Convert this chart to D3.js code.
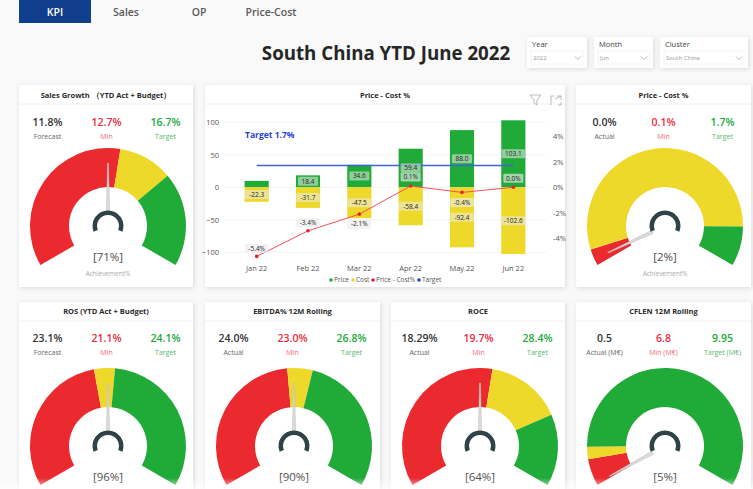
<!DOCTYPE html>
<meta charset="utf-8">
<style>
  html, body { margin: 0; padding: 0; background: #f9f9f9; overflow: hidden; }
  svg { display: block; font-family: "Open Sans", sans-serif; }
  .tick line, .domain { display: none; }
  .tick text { font-family: "Open Sans", sans-serif; font-size: 7.5px; fill: #555; }
</style>

<body>
  <script src="https://d3js.org/d3.v7.min.js"></script>
  <script>
    // tabs and slicers
    var tabs = ["KPI", "Sales", "OP", "Price-Cost"];
    var slicerLabels = ["Year", "Month", "Cluster"];
    var slicerValues = ["2022", "Jun", "South China"];

    // combo chart
    var months = ["Jan 22", "Feb 22", "Mar 22", "Apr 22", "May 22", "Jun 22"];
    var price = [9.9, 18.4, 34.6, 59.4, 88.0, 103.1];
    var cost = [-22.3, -31.7, -47.5, -58.4, -92.4, -102.6];
    var priceCostPct = [-5.4, -3.4, -2.1, 0.1, -0.4, 0.0];
    var targetPct = 1.7;
    var leftTicks = [-100, -50, 0, 50, 100];
    var rightTicks = [-4, -2, 0, 2, 4];
    var legendNames = ["Price", "Cost", "Price - Cost%", "Target"];

    // gauges
    var gaugeTitles = ["Sales Growth （YTD Act + Budget）", "Price - Cost %", "ROS (YTD Act + Budget)", "EBITDA% 12M Rolling", "ROCE", "CFLEN 12M Rolling"];
    var gaugeActualText = ["11.8%", "0.0%", "23.1%", "24.0%", "18.29%", "0.5"];
    var gaugeMinText = ["12.7%", "0.1%", "21.1%", "23.0%", "19.7%", "6.8"];
    var gaugeTargetText = ["16.7%", "1.7%", "24.1%", "26.8%", "28.4%", "9.95"];
    var gaugeActualName = ["Forecast", "Actual", "Forecast", "Actual", "Actual", "Actual (M€)"];
    var gaugeMinName = ["Min", "Min", "Min", "Min", "Min", "Min (M€)"];
    var gaugeTargetName = ["Target", "Target", "Target", "Target", "Target", "Target (M€)"];
    var gaugeActual = [11.8, 0.04, 23.1, 24.0, 18.29, 0.5];
    var gaugeMin = [12.7, 0.1, 21.1, 23.0, 19.7, 6.8];
    var gaugeTarget = [16.7, 1.7, 24.1, 26.8, 28.4, 9.95];
    var gaugeMax = [23.6, 1.94, 46.2, 48.0, 36.58, 81];
    var achievement = ["[71%]", "[2%]", "[96%]", "[90%]", "[64%]", "[5%]"];
    var gaugeCaption = ["Achievement%", "Achievement%", "", "", "", ""];

    var RED = "#ea2a2e", YELLOW = "#eed92b", GREEN = "#20aa38", BLUE = "#1f3fe0";

    var svg = d3.select("body").append("svg")
      .attr("width", 753)
      .attr("height", 489);

    var defs = svg.append("defs");
    var shadow = defs.append("filter").attr("id", "shadow")
      .attr("x", "-10%").attr("y", "-10%").attr("width", "120%").attr("height", "120%");
    shadow.append("feDropShadow")
      .attr("dx", 1).attr("dy", 1).attr("stdDeviation", 2.5)
      .attr("flood-color", "#000").attr("flood-opacity", 0.13);

    var fade = defs.append("linearGradient").attr("id", "fade")
      .attr("x1", 0).attr("y1", 0).attr("x2", 0).attr("y2", 1);
    fade.append("stop").attr("offset", "0%").attr("stop-color", "#fff").attr("stop-opacity", 0);
    fade.append("stop").attr("offset", "100%").attr("stop-color", "#fff").attr("stop-opacity", 0.7);

    // ---- tabs ----
    svg.append("rect")
      .attr("x", 19).attr("y", 0).attr("width", 72).attr("height", 23)
      .attr("fill", "#0f3f8c");

    var tabX = [55, 126, 199, 271];
    svg.selectAll(".tab")
      .data(tabs)
      .enter().append("text")
      .attr("class", "tab")
      .attr("x", function (d, i) { return tabX[i]; })
      .attr("y", 16)
      .attr("text-anchor", "middle")
      .attr("font-size", 10.5)
      .attr("font-weight", 600)
      .attr("fill", function (d, i) { return i == 0 ? "#fff" : "#5a5a5a"; })
      .text(function (d) { return d; });

    // ---- title ----
    svg.append("text")
      .attr("x", 386).attr("y", 60)
      .attr("text-anchor", "middle")
      .attr("font-size", 18.7)
      .attr("font-weight", 700)
      .attr("fill", "#262626")
      .text("South China YTD June 2022");

    // ---- slicers ----
    var slicerX = [527, 594, 660], slicerW = [60, 59, 88];
    var slicer = svg.selectAll(".slicer")
      .data(slicerLabels)
      .enter().append("g")
      .attr("class", "slicer")
      .attr("transform", function (d, i) { return "translate(" + slicerX[i] + ",37)"; });

    slicer.append("rect")
      .attr("width", function (d, i) { return slicerW[i]; })
      .attr("height", 31)
      .attr("fill", "#fff")
      .attr("filter", "url(#shadow)");
    slicer.append("rect")
      .attr("x", 4).attr("y", 14)
      .attr("width", function (d, i) { return slicerW[i] - 8; })
      .attr("height", 13)
      .attr("fill", "none")
      .attr("stroke", "#f4f4f4");
    slicer.append("text")
      .attr("x", 5).attr("y", 10)
      .attr("font-size", 7.5)
      .attr("fill", "#444")
      .text(function (d) { return d; });
    slicer.append("text")
      .attr("x", 6).attr("y", 23)
      .attr("font-size", 6)
      .attr("fill", "#999")
      .text(function (d, i) { return slicerValues[i]; });
    slicer.append("path")
      .attr("d", function (d, i) {
        var x = slicerW[i] - 9;
        return "M" + (x - 3) + ",19.5L" + x + ",22.5L" + (x + 3) + ",19.5";
      })
      .attr("fill", "none")
      .attr("stroke", "#999")
      .attr("stroke-width", 0.7);

    // ---- combo chart card ----
    function card(x, y, w, h, title, titleY) {
      var g = svg.append("g").attr("transform", "translate(" + x + "," + y + ")");
      g.append("rect")
        .attr("width", w).attr("height", h)
        .attr("fill", "#fff")
        .attr("filter", "url(#shadow)");
      g.append("line")
        .attr("x1", 0).attr("x2", w)
        .attr("y1", 19).attr("y2", 19)
        .attr("stroke", "#f0f0f0");
      g.append("text")
        .attr("x", w / 2).attr("y", titleY)
        .attr("text-anchor", "middle")
        .attr("font-size", 7.5)
        .attr("font-weight", 700)
        .attr("fill", "#2b2b2b")
        .text(title);
      return g;
    }

    card(205, 85, 360, 202, "Price - Cost %", 12.5);

    var x = d3.scaleBand().domain(months).range([231, 539]).paddingInner(0.53).paddingOuter(0.265);
    var y = d3.scaleLinear().domain([-100, 100]).range([252.3, 122.3]);
    var yPct = d3.scaleLinear().domain([-5.08, 5.08]).range([252.3, 122.3]);
    function cx(d) { return x(d) + x.bandwidth() / 2; }

    // gridlines
    svg.append("g").selectAll("line")
      .data(leftTicks)
      .enter().append("line")
      .attr("x1", 224).attr("x2", 546)
      .attr("y1", function (d) { return y(d); })
      .attr("y2", function (d) { return y(d); })
      .attr("stroke", "#f3f3f3");

    svg.append("g")
      .attr("transform", "translate(222,0)")
      .call(d3.axisLeft(y).tickValues(leftTicks).tickSize(0));
    svg.append("g")
      .attr("transform", "translate(550,0)")
      .call(d3.axisRight(yPct).tickValues(rightTicks).tickSize(0).tickFormat(function (d) { return d + "%"; }));
    svg.append("g")
      .attr("transform", "translate(0,263)")
      .call(d3.axisBottom(x).tickSize(0));

    // bars
    svg.append("g").selectAll("rect")
      .data(months)
      .enter().append("rect")
      .attr("x", function (d) { return x(d); })
      .attr("y", function (d, i) { return y(price[i]); })
      .attr("width", x.bandwidth())
      .attr("height", function (d, i) { return y(0) - y(price[i]); })
      .attr("fill", GREEN);
    svg.append("g").selectAll("rect")
      .data(months)
      .enter().append("rect")
      .attr("x", function (d) { return x(d); })
      .attr("y", y(0))
      .attr("width", x.bandwidth())
      .attr("height", function (d, i) { return y(cost[i]) - y(0); })
      .attr("fill", YELLOW);

    // target line and label
    svg.append("line")
      .attr("x1", cx(months[0])).attr("x2", cx(months[5]))
      .attr("y1", yPct(targetPct)).attr("y2", yPct(targetPct))
      .attr("stroke", "#3f63d8")
      .attr("stroke-width", 1.4);
    svg.append("text")
      .attr("x", 245).attr("y", 138)
      .attr("font-size", 8.5)
      .attr("font-weight", 700)
      .attr("fill", BLUE)
      .text("Target " + targetPct.toFixed(1) + "%");

    // price - cost line
    var line = d3.line()
      .x(function (d, i) { return cx(months[i]); })
      .y(function (d) { return yPct(d); });
    svg.append("path")
      .attr("d", line(priceCostPct))
      .attr("fill", "none")
      .attr("stroke", "#f4505c")
      .attr("stroke-width", 1);
    svg.append("g").selectAll("circle")
      .data(priceCostPct)
      .enter().append("circle")
      .attr("cx", function (d, i) { return cx(months[i]); })
      .attr("cy", function (d) { return yPct(d); })
      .attr("r", 1.8)
      .attr("fill", "#f01c2c");

    // small label with a see-through pill behind it
    function pill(px, py, txt, bg) {
      var w = txt.length * 3.5 + 6;
      svg.append("rect")
        .attr("x", px - w / 2).attr("y", py - 4.5)
        .attr("width", w).attr("height", 9)
        .attr("rx", 1)
        .attr("fill", bg);
      svg.append("text")
        .attr("x", px).attr("y", py + 2.3)
        .attr("text-anchor", "middle")
        .attr("font-size", 6.5)
        .attr("fill", "#222")
        .text(txt);
    }

    months.forEach(function (m, i) {
      if (i > 0) pill(cx(m), (y(price[i]) + y(0)) / 2, price[i].toFixed(1), "rgba(235,235,235,0.55)");
      pill(cx(m), (y(cost[i]) + y(0)) / 2, cost[i].toFixed(1), "rgba(235,235,235,0.55)");
    });
    var pctOffset = [-8, -8, 10, -9, 10, -9];
    priceCostPct.forEach(function (d, i) {
      pill(cx(months[i]), yPct(d) + pctOffset[i], d.toFixed(1) + "%", "rgba(235,235,235,0.65)");
    });

    // legend
    var legendX = [331, 353, 373, 419];
    var legendColor = [GREEN, YELLOW, "#f01c2c", BLUE];
    var legend = svg.selectAll(".legend")
      .data(legendNames)
      .enter().append("g")
      .attr("class", "legend")
      .attr("transform", function (d, i) { return "translate(" + legendX[i] + ",280)"; });
    legend.append("circle")
      .attr("r", 1.8)
      .attr("fill", function (d, i) { return legendColor[i]; });
    legend.append("text")
      .attr("x", 3).attr("y", 2.4)
      .attr("font-size", 6.5)
      .attr("fill", "#555")
      .text(function (d) { return d; });

    // filter and focus icons
    svg.append("path")
      .attr("d", "M530,95H541L537,100V105L534,103V100Z")
      .attr("fill", "none").attr("stroke", "#aaa").attr("stroke-width", 0.8);
    svg.append("path")
      .attr("d", "M551,105V96H554M557,96H561V100M561,102V105H558M555,99L561,96")
      .attr("fill", "none").attr("stroke", "#aaa").attr("stroke-width", 0.8);

    // ---- gauges ----
    var slots = [
      { x: 19, y: 85, w: 174, h: 202, cy: 226, dy: 0, ty: 12.5 },
      { x: 576, y: 85, w: 175, h: 202, cy: 226, dy: 0, ty: 12.5 },
      { x: 19, y: 302, w: 174, h: 200, cy: 446, dy: -1.5, ty: 11.5 },
      { x: 205, y: 302, w: 175, h: 200, cy: 446, dy: -1.5, ty: 11.5 },
      { x: 391, y: 302, w: 174, h: 200, cy: 446, dy: -1.5, ty: 11.5 },
      { x: 576, y: 302, w: 175, h: 200, cy: 446, dy: -1.5, ty: 11.5 }
    ];
    var rad = Math.PI / 180;
    var arc = d3.arc().innerRadius(39).outerRadius(78);
    var hubArc = d3.arc().innerRadius(11).outerRadius(15.5)
      .startAngle(-112 * rad).endAngle(112 * rad);

    gaugeTitles.forEach(function (title, i) {
      var s = slots[i];
      var g = card(s.x, s.y, s.w, s.h, title, s.ty);
      var kx = [28.5, 87.5, 146.5];
      var texts = [gaugeActualText[i], gaugeMinText[i], gaugeTargetText[i]];
      var names = [gaugeActualName[i], gaugeMinName[i], gaugeTargetName[i]];
      var vColor = ["#333", "#ee2b3c", GREEN];
      var nColor = ["#666", "#f36a76", "#55b96c"];

      texts.forEach(function (t, k) {
        g.append("text")
          .attr("x", kx[k]).attr("y", 41 + s.dy)
          .attr("text-anchor", "middle")
          .attr("font-size", 10.5)
          .attr("font-weight", 600)
          .attr("fill", vColor[k])
          .text(t);
        g.append("text")
          .attr("x", kx[k]).attr("y", 54 + s.dy)
          .attr("text-anchor", "middle")
          .attr("font-size", 7)
          .attr("fill", nColor[k])
          .text(names[k]);
      });

      // 240 degree sweep, domain runs from 0 to the gauge maximum
      var angle = d3.scaleLinear().domain([0, gaugeMax[i]]).range([-120 * rad, 120 * rad]);
      var c = svg.append("g")
        .attr("transform", "translate(" + (s.x + 89) + "," + s.cy + ")");
      var stops = [
        { a: 0, b: gaugeMin[i], fill: RED },
        { a: gaugeMin[i], b: gaugeTarget[i], fill: YELLOW },
        { a: gaugeTarget[i], b: gaugeMax[i], fill: GREEN }
      ];
      c.selectAll(".seg")
        .data(stops)
        .enter().append("path")
        .attr("class", "seg")
        .attr("d", function (d) {
          return arc({ startAngle: angle(d.a), endAngle: angle(d.b) });
        })
        .attr("fill", function (d) { return d.fill; });

      // needle points straight up, then gets rotated to the value
      c.append("path")
        .attr("d", "M-1.6,-14L-0.4,-63L0.4,-63L1.6,-14Z")
        .attr("transform", "rotate(" + angle(gaugeActual[i]) / rad + ")")
        .attr("fill", "#dcdcdc")
        .attr("stroke", "#b8b8b8")
        .attr("stroke-width", 0.5);
      c.append("path")
        .attr("d", hubArc())
        .attr("fill", "#2f4248");

      c.append("text")
        .attr("y", 35)
        .attr("text-anchor", "middle")
        .attr("font-size", 11.5)
        .attr("fill", "#4d4d4d")
        .text(achievement[i]);
      if (gaugeCaption[i]) {
        c.append("text")
          .attr("y", 49.5)
          .attr("text-anchor", "middle")
          .attr("font-size", 6.5)
          .attr("fill", "#aaa")
          .text(gaugeCaption[i]);
      }
    });

    // the screenshot washes out towards the bottom edge
    svg.append("rect")
      .attr("x", 0).attr("y", 478)
      .attr("width", 753).attr("height", 11)
      .attr("fill", "url(#fade)");
  </script>
</body>
